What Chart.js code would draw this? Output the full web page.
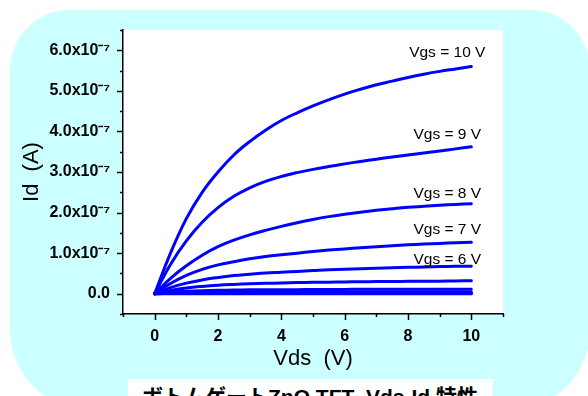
<!DOCTYPE html>
<html>
<head>
<meta charset="utf-8">
<script src="https://cdn.jsdelivr.net/npm/chart.js@4/dist/chart.umd.min.js"></script>
<style>
  body { margin: 0; width: 588px; height: 396px; overflow: hidden; background: #fff; position: relative; }
  #panel { position: absolute; left: 10px; top: 10px; width: 580px; height: 400px;
           background: #ccffff; border-radius: 60px 60px 80px 80px; }
  #chart { position: absolute; left: 0; top: 0; }
  #caption { position: absolute; left: 128px; top: 379px; width: 365px; height: 30px; background: #fff;
             font: bold 21px Arial, "Liberation Sans", "Noto Sans CJK JP", sans-serif;
             line-height: 21px; padding-top: 7px; padding-left: 14px; box-sizing: border-box;
             color: #000; white-space: nowrap; }
</style>
</head>
<body>
<div id="panel"></div>
<canvas id="chart" width="588" height="396"></canvas>
<div id="caption">ボトムゲートZnO TFT&nbsp; Vds-Id 特性</div>
<script>
// Vds (V)
var vds = [0, 0.5, 1, 1.5, 2, 2.5, 3, 3.5, 4, 4.5, 5, 5.5, 6, 6.5, 7, 7.5, 8, 8.5, 9, 9.5, 10];

// Id en unidades de 1e-7 A, una lista por cada Vgs
var id10 = [0, 1.0, 1.85, 2.5, 3.0, 3.42, 3.75, 4.03, 4.27, 4.46, 4.63, 4.78, 4.92, 5.04, 5.15, 5.24, 5.33, 5.41, 5.48, 5.54, 5.6];
var id9  = [0, 0.72, 1.30, 1.76, 2.12, 2.40, 2.61, 2.77, 2.89, 2.985, 3.065, 3.135, 3.2, 3.26, 3.315, 3.37, 3.42, 3.47, 3.52, 3.57, 3.62];
var id8  = [0, 0.38, 0.69, 0.95, 1.16, 1.32, 1.45, 1.56, 1.66, 1.75, 1.83, 1.90, 1.96, 2.01, 2.055, 2.095, 2.13, 2.155, 2.18, 2.20, 2.22];
var id7  = [0, 0.25, 0.45, 0.6, 0.71, 0.79, 0.86, 0.915, 0.96, 1.0, 1.04, 1.075, 1.105, 1.135, 1.16, 1.185, 1.205, 1.225, 1.24, 1.255, 1.27];
var id6  = [0, 0.15, 0.26, 0.34, 0.4, 0.45, 0.48, 0.51, 0.53, 0.55, 0.57, 0.59, 0.6, 0.615, 0.63, 0.64, 0.65, 0.66, 0.67, 0.675, 0.68];
var id5  = [0, 0.08, 0.14, 0.18, 0.21, 0.23, 0.245, 0.255, 0.265, 0.275, 0.28, 0.285, 0.29, 0.295, 0.3, 0.3, 0.305, 0.31, 0.31, 0.315, 0.32];
var id4  = [0, 0.04, 0.06, 0.075, 0.085, 0.09, 0.095, 0.1, 0.1, 0.1, 0.105, 0.105, 0.105, 0.11, 0.11, 0.11, 0.11, 0.11, 0.11, 0.11, 0.11];
var id3  = [0, 0.015, 0.025, 0.03, 0.035, 0.035, 0.04, 0.04, 0.04, 0.04, 0.04, 0.04, 0.04, 0.04, 0.04, 0.04, 0.04, 0.04, 0.04, 0.04, 0.04];
var id2  = [0, 0.005, 0.008, 0.01, 0.01, 0.01, 0.01, 0.01, 0.01, 0.01, 0.01, 0.01, 0.01, 0.01, 0.01, 0.01, 0.01, 0.01, 0.01, 0.01, 0.01];
var id1  = [0, 0, 0, 0, 0, 0, 0, 0, 0, 0, 0, 0, 0, 0, 0, 0, 0, 0, 0, 0, 0];

var gateLabels = ['Vgs = 10 V', 'Vgs = 9 V', 'Vgs = 8 V', 'Vgs = 7 V', 'Vgs = 6 V', '', '', '', '', ''];
var series = [id10, id9, id8, id7, id6, id5, id4, id3, id2, id1];

var xTickLabels = [0, 2, 4, 6, 8, 10];
var yTickLabels = [0, 1, 2, 3, 4, 5, 6];

var font = 'Arial, "Liberation Sans", sans-serif';

// cuanto sube cada etiqueta sobre el final de su curva (px)
var labelLift = [14, 12, 10, 12, 6];

var datasets = series.map(function (s, i) {
    return {
        label: gateLabels[i],
        data: s.map(function (v, k) { return { x: vds[k], y: v }; }),
        borderColor: '#0000ff',
        borderWidth: 3,
        borderCapStyle: 'round',
        pointRadius: 0,
        tension: 0.4,
        fill: false
    };
});

// fondo blanco del area de la grafica
var plotBackground = {
    id: 'plotBackground',
    beforeDraw: function (chart) {
        var a = chart.chartArea, ctx = chart.ctx;
        ctx.save();
        ctx.fillStyle = '#fff';
        ctx.fillRect(a.left, a.top, a.right - a.left, a.bottom - a.top);
        ctx.restore();
    }
};

// marcas mayores y menores hacia fuera
var tickMarks = {
    id: 'tickMarks',
    afterDraw: function (chart) {
        var ctx = chart.ctx, xs = chart.scales.x, ys = chart.scales.y;
        ctx.save();
        ctx.strokeStyle = '#000';
        ctx.lineWidth = 1.5;
        ctx.beginPath();
        xs.ticks.forEach(function (t) {
            var px = Math.round(xs.getPixelForValue(t.value)) + 0.5;
            var len = t.value % 2 === 0 ? 6 : 3;
            ctx.moveTo(px, xs.top);
            ctx.lineTo(px, xs.top + len);
        });
        ys.ticks.forEach(function (t) {
            var py = Math.round(ys.getPixelForValue(t.value)) + 0.5;
            var len = Number.isInteger(t.value) ? 6 : 3;
            ctx.moveTo(ys.right, py);
            ctx.lineTo(ys.right - len, py);
        });
        ctx.stroke();
        ctx.restore();
    }
};

// etiquetas Vgs junto al final de cada curva
var curveLabels = {
    id: 'curveLabels',
    afterDatasetsDraw: function (chart) {
        var ctx = chart.ctx, xs = chart.scales.x, ys = chart.scales.y;
        ctx.save();
        ctx.font = '15.5px ' + font;
        ctx.fillStyle = '#000';
        ctx.textAlign = 'center';
        ctx.textBaseline = 'middle';
        series.forEach(function (s, i) {
            if (!gateLabels[i]) return;
            var last = s[s.length - 1];
            var px = xs.getPixelForValue(9.24);
            var py = ys.getPixelForValue(last) - labelLift[i];
            ctx.fillText(gateLabels[i], px, py);
        });
        ctx.restore();
    }
};

var chart = new Chart(document.getElementById('chart'), {
    type: 'line',
    data: { datasets: datasets },
    options: {
        responsive: false,
        animation: false,
        devicePixelRatio: 1,
        layout: { padding: { left: 0, top: 30, right: 85, bottom: 0 } },
        plugins: { legend: { display: false }, tooltip: { enabled: false } },
        scales: {
            x: {
                type: 'linear',
                min: -1,
                max: 11,
                afterFit: function (s) { s.height = 82; },
                grid: { drawOnChartArea: false, drawTicks: false },
                border: { display: true, color: '#000', width: 1.5 },
                ticks: {
                    stepSize: 1,
                    autoSkip: false,
                    maxRotation: 0,
                    padding: 13,
                    color: '#000',
                    font: { family: font, size: 16, weight: 'bold' },
                    callback: function (v) { return xTickLabels.indexOf(v) >= 0 ? String(v) : ''; }
                },
                title: {
                    display: true,
                    text: 'Vds  (V)',
                    color: '#000',
                    font: { family: font, size: 22 },
                    padding: { top: 0, bottom: 24 }
                }
            },
            y: {
                type: 'linear',
                min: -0.5,
                max: 6.5,
                afterFit: function (s) { s.width = 123; },
                grid: { drawOnChartArea: false, drawTicks: false },
                border: { display: true, color: '#000', width: 1.5 },
                ticks: {
                    stepSize: 0.5,
                    autoSkip: false,
                    padding: 13,
                    color: '#000',
                    font: { family: font, size: 16, weight: 'bold' },
                    callback: function (v) {
                        if (yTickLabels.indexOf(v) < 0) return '';
                        return v === 0 ? '0.0' : v.toFixed(1) + 'x10\u207B\u2077';
                    }
                },
                title: {
                    display: true,
                    text: 'Id  (A)',
                    color: '#000',
                    font: { family: font, size: 22 },
                    padding: { top: 19, bottom: 0 }
                }
            }
        }
    },
    plugins: [plotBackground, tickMarks, curveLabels]
});
</script>
</body>
</html>
